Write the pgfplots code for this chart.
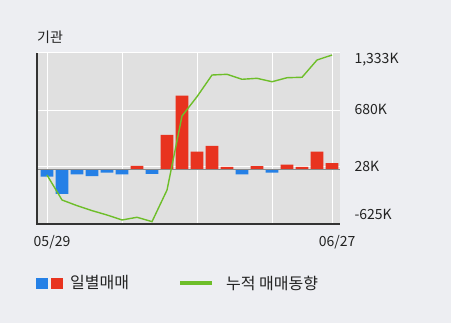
\documentclass[border=0pt]{standalone}
\usepackage{fontspec}
\setmainfont{Noto Sans CJK KR}
\usepackage{pgfplots}
\pgfplotsset{compat=1.18}
\definecolor{bg}{HTML}{EDEEF2}
\definecolor{plotbg}{HTML}{E0E0E0}
\definecolor{barred}{HTML}{E8331F}
\definecolor{barblue}{HTML}{2580E6}
\definecolor{linegreen}{HTML}{6EBE2A}
\definecolor{axdark}{HTML}{333333}
\definecolor{zerogray}{HTML}{888888}
\definecolor{txt}{HTML}{222222}
\begin{document}
\begin{tikzpicture}[x=1pt,y=1pt]
\fill[bg] (0,0) rectangle (451,323);
\node[font=\fontsize{14}{14}\selectfont, text=txt] at (50,286) {기관};
\begin{axis}[
  at={(37pt,99pt)}, anchor=south west,
  scale only axis, width=303pt, height=171pt,
  xmin=0.333, xmax=20.53, ymin=-625, ymax=1333,
  axis background/.style={fill=plotbg},
  axis line style={draw=none},
  xtick={1,6,11,16,20}, xticklabels={05/29,,,,06/27},
  xticklabel style={anchor=center, yshift=-18pt, xshift=5pt, font=\fontsize{14}{14}\selectfont, text=txt},
  ytick={-625,28,680,1333}, yticklabels={},
  grid=major, major grid style={white, line width=1pt},
  major tick length=0pt,
  clip=false,
]
\addplot[ybar, bar width=12.7pt, bar shift=0pt, fill=barblue, draw=none] coordinates {
 (1,-84) (2,-280) (3,-58) (4,-77) (5,-38) (6,-58) (8,-50) (14,-58) (16,-38)};
\addplot[ybar, bar width=12.7pt, bar shift=0pt, fill=barred, draw=none] coordinates {
 (7,40) (9,395) (10,845) (11,203) (12,269) (13,28) (15,38) (17,55) (18,28) (19,203) (20,73)};
\addplot[zerogray, line width=1.8pt] coordinates {(0.333,0) (20.53,0)};
\addplot[linegreen, line width=1.4pt] coordinates {
 (1,-64) (2,-350) (3,-415) (4,-472) (5,-522) (6,-579) (7,-548) (8,-598) (9,-236) (10,612)
 (11,833) (12,1081) (13,1089) (14,1032) (15,1043) (16,1004) (17,1050) (18,1055) (19,1253) (20,1310)};
\draw[axdark, line width=2pt] (rel axis cs:0,1) -- (rel axis cs:0,0) -- (rel axis cs:1,0);
\node[anchor=west, font=\fontsize{14}{14}\selectfont, text=txt, xshift=11pt] at (rel axis cs:1,0.96) {1,333K};
\node[anchor=west, font=\fontsize{14}{14}\selectfont, text=txt, xshift=11pt] at (rel axis cs:1,0.667) {680K};
\node[anchor=west, font=\fontsize{14}{14}\selectfont, text=txt, xshift=11pt] at (rel axis cs:1,0.339) {28K};
\node[anchor=west, font=\fontsize{14}{14}\selectfont, text=txt, xshift=11pt] at (rel axis cs:1,0.058) {-625K};
\end{axis}
\fill[barblue] (36,34) rectangle (48,45);
\fill[barred] (51,34) rectangle (63,45);
\node[anchor=west, inner sep=0pt, font=\fontsize{16}{16}\selectfont, text=txt] at (70,40) {일별매매};
\draw[linegreen, line width=4pt] (180,40) -- (212,40);
\node[anchor=west, inner sep=0pt, font=\fontsize{16}{16}\selectfont, text=txt] at (226,40) {누적 매매동향};
\end{tikzpicture}
\end{document}
